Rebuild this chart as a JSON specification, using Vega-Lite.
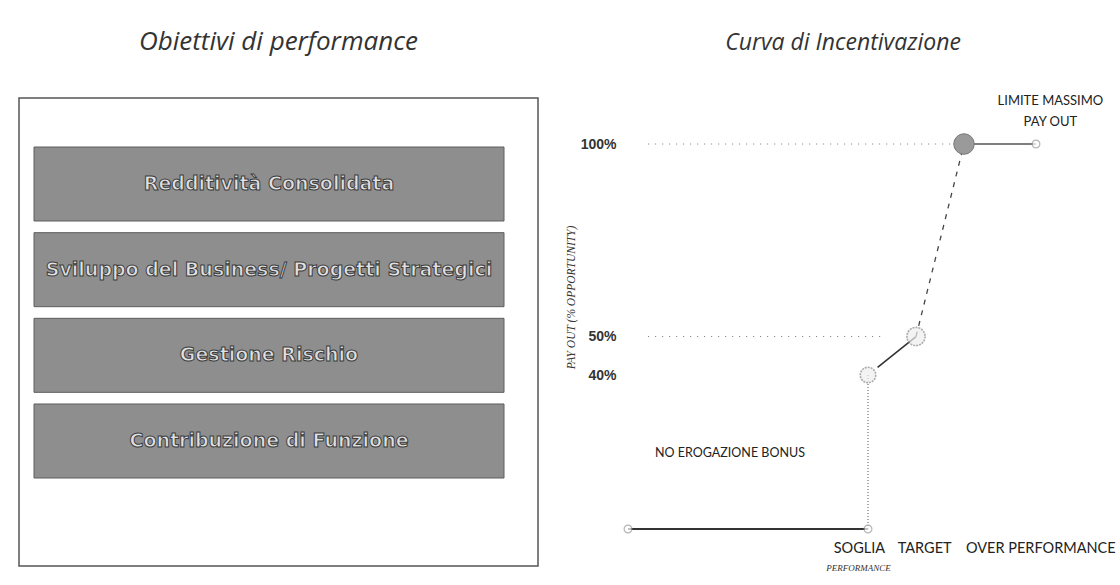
{
  "$schema": "https://vega.github.io/schema/vega-lite/v6.json",
  "background": "white",
  "padding": {"left": 18, "top": 28, "right": 0, "bottom": 0},
  "spacing": 26,
  "config": {
    "view": {"stroke": null},
    "font": "Lato",
    "title": {"font": "Open Sans", "fontStyle": "italic", "fontWeight": "normal", "fontSize": 23, "color": "#333333", "offset": 40, "anchor": "middle", "frame": "group"}
  },
  "hconcat": [
    {
      "title": {"text": "Obiettivi di performance", "fontSize": 26, "offset": 43},
      "width": 519,
      "height": 468,
      "view": {"stroke": "#555555", "strokeWidth": 1.5},
      "data": {"values": [
        {"obiettivo": "Redditività Consolidata", "peso": 1},
        {"obiettivo": "Sviluppo del Business/ Progetti Strategici", "peso": 1},
        {"obiettivo": "Gestione Rischio", "peso": 1},
        {"obiettivo": "Contribuzione di Funzione", "peso": 1}
      ]},
      "encoding": {
        "y": {"field": "obiettivo", "type": "nominal", "sort": null, "axis": null,
              "scale": {"range": [49, 380], "paddingInner": 0.136, "paddingOuter": 0}}
      },
      "layer": [
        {
          "mark": {"type": "bar", "fill": "#8e8e8e", "stroke": "#5e5e5e", "strokeWidth": 1},
          "encoding": {
            "x": {"field": "peso", "type": "quantitative", "axis": null,
                  "scale": {"domain": [0, 1], "range": [15, 485]}}
          }
        },
        {
          "mark": {"type": "text", "font": "DejaVu Sans", "fontWeight": "bold", "fontSize": 19, "fill": "#e0e0e0", "stroke": "#3c3c3c", "strokeWidth": 1, "align": "center", "baseline": "middle"},
          "encoding": {
            "x": {"datum": 0.5, "type": "quantitative", "scale": {"domain": [0, 1], "range": [15, 485]}},
            "text": {"field": "obiettivo"}
          }
        }
      ]
    },
    {
      "title": {"text": "Curva di Incentivazione", "dx": -25},
      "width": 480,
      "height": 468,
      "encoding": {
        "x": {"type": "quantitative", "axis": null, "scale": {"domain": [0, 100], "nice": false, "zero": false}},
        "y": {"type": "quantitative", "scale": {"domain": [-0.0961, 1.1195], "nice": false, "zero": false},
              "axis": {"values": [0.4, 0.5, 1.0], "format": ".0%", "domain": false, "ticks": false, "grid": false,
                       "labelFont": "Liberation Sans", "labelFontWeight": "bold", "labelFontSize": 14, "labelColor": "#333333", "labelPadding": 12,
                       "title": "PAY OUT (% OPPORTUNITY)", "titleFont": "Liberation Serif", "titleFontStyle": "italic", "titleFontWeight": "normal",
                       "titleFontSize": 11.5, "titleColor": "#333333", "titleX": -57, "titleY": 199, "titleAngle": -90, "titleAlign": "center", "titleBaseline": "middle"}}
      },
      "layer": [
        {
          "data": {"values": [
            {"livello": "100%", "da": 4.2, "a": 70, "payout": 1.0},
            {"livello": "50%", "da": 4.2, "a": 53, "payout": 0.5}
          ]},
          "mark": {"type": "rule", "color": "#777777", "strokeWidth": 1, "strokeDash": [1, 6]},
          "encoding": {
            "x": {"field": "da"}, "x2": {"field": "a"},
            "y": {"field": "payout"}
          }
        },
        {
          "data": {"values": [{"x": 0, "y": 0, "x2": 50, "y2": 0}]},
          "mark": {"type": "rule", "color": "#333333", "strokeWidth": 2},
          "encoding": {"x": {"field": "x"}, "x2": {"field": "x2"}, "y": {"field": "y"}, "y2": {"field": "y2"}}
        },
        {
          "data": {"values": [{"x": 50, "y": 0, "x2": 50, "y2": 0.4}]},
          "mark": {"type": "rule", "color": "#555555", "strokeWidth": 1, "strokeDash": [1, 2]},
          "encoding": {"x": {"field": "x"}, "x2": {"field": "x2"}, "y": {"field": "y"}, "y2": {"field": "y2"}}
        },
        {
          "data": {"values": [{"x": 52, "y": 0.42, "x2": 60, "y2": 0.5}]},
          "mark": {"type": "rule", "color": "#333333", "strokeWidth": 1.6},
          "encoding": {"x": {"field": "x"}, "x2": {"field": "x2"}, "y": {"field": "y"}, "y2": {"field": "y2"}}
        },
        {
          "data": {"values": [{"x": 60, "y": 0.5, "x2": 70, "y2": 1.0}]},
          "mark": {"type": "rule", "color": "#444444", "strokeWidth": 1.3, "strokeDash": [5, 6]},
          "encoding": {"x": {"field": "x"}, "x2": {"field": "x2"}, "y": {"field": "y"}, "y2": {"field": "y2"}}
        },
        {
          "data": {"values": [{"x": 70, "y": 1.0, "x2": 85, "y2": 1.0}]},
          "mark": {"type": "rule", "color": "#555555", "strokeWidth": 1.5},
          "encoding": {"x": {"field": "x"}, "x2": {"field": "x2"}, "y": {"field": "y"}, "y2": {"field": "y2"}}
        },
        {
          "data": {"values": [
            {"punto": "inizio", "performance": 0, "payout": 0},
            {"punto": "soglia base", "performance": 50, "payout": 0},
            {"punto": "fine", "performance": 85, "payout": 1.0}
          ]},
          "mark": {"type": "point", "shape": "circle", "size": 60, "fill": "white", "filled": false, "stroke": "#999999", "strokeWidth": 1.2},
          "encoding": {"x": {"field": "performance"}, "y": {"field": "payout"}}
        },
        {
          "data": {"values": [
            {"punto": "soglia", "performance": 50, "payout": 0.4},
            {"punto": "target", "performance": 60, "payout": 0.5}
          ]},
          "mark": {"type": "point", "shape": "circle", "fill": "#eeeeee", "filled": false, "stroke": "#8a8a8a", "strokeWidth": 1.6, "strokeDash": [2, 1]},
          "encoding": {"x": {"field": "performance"}, "y": {"field": "payout"},
                       "size": {"field": "punto", "type": "nominal", "legend": null, "scale": {"domain": ["soglia", "target"], "range": [240, 330]}}}
        },
        {
          "data": {"values": [{"punto": "massimo", "performance": 70, "payout": 1.0}]},
          "mark": {"type": "point", "shape": "circle", "size": 420, "filled": true, "fill": "#9a9a9a", "stroke": "#777777", "strokeWidth": 1, "opacity": 1},
          "encoding": {"x": {"field": "performance"}, "y": {"field": "payout"}}
        },
        {
          "data": {"values": [
            {"etichetta": "SOGLIA", "performance": 48.2, "payout": -0.052},
            {"etichetta": "TARGET", "performance": 61.8, "payout": -0.052},
            {"etichetta": "OVER PERFORMANCE", "performance": 86, "payout": -0.052}
          ]},
          "mark": {"type": "text", "font": "Lato", "fontSize": 14.5, "color": "#222222", "align": "center", "baseline": "middle"},
          "encoding": {"x": {"field": "performance"}, "y": {"field": "payout"}, "text": {"field": "etichetta"}}
        },
        {
          "data": {"values": [{"etichetta": "PERFORMANCE", "performance": 48, "payout": -0.1}]},
          "mark": {"type": "text", "font": "Liberation Serif", "fontStyle": "italic", "fontSize": 9, "color": "#333333", "align": "center", "baseline": "middle"},
          "encoding": {"x": {"field": "performance"}, "y": {"field": "payout"}, "text": {"field": "etichetta"}}
        },
        {
          "data": {"values": [{"etichetta": "NO EROGAZIONE BONUS", "performance": 21.25, "payout": 0.197}]},
          "mark": {"type": "text", "font": "Lato", "fontSize": 12.5, "color": "#222222", "align": "center", "baseline": "middle"},
          "encoding": {"x": {"field": "performance"}, "y": {"field": "payout"}, "text": {"field": "etichetta"}}
        },
        {
          "data": {"values": [{"etichetta": "LIMITE MASSIMO\nPAY OUT", "performance": 88, "payout": 1.111}]},
          "mark": {"type": "text", "font": "Lato", "fontSize": 13, "color": "#222222", "align": "center", "baseline": "middle", "lineBreak": "\n", "lineHeight": 21},
          "encoding": {"x": {"field": "performance"}, "y": {"field": "payout"}, "text": {"field": "etichetta"}}
        }
      ]
    }
  ]
}
